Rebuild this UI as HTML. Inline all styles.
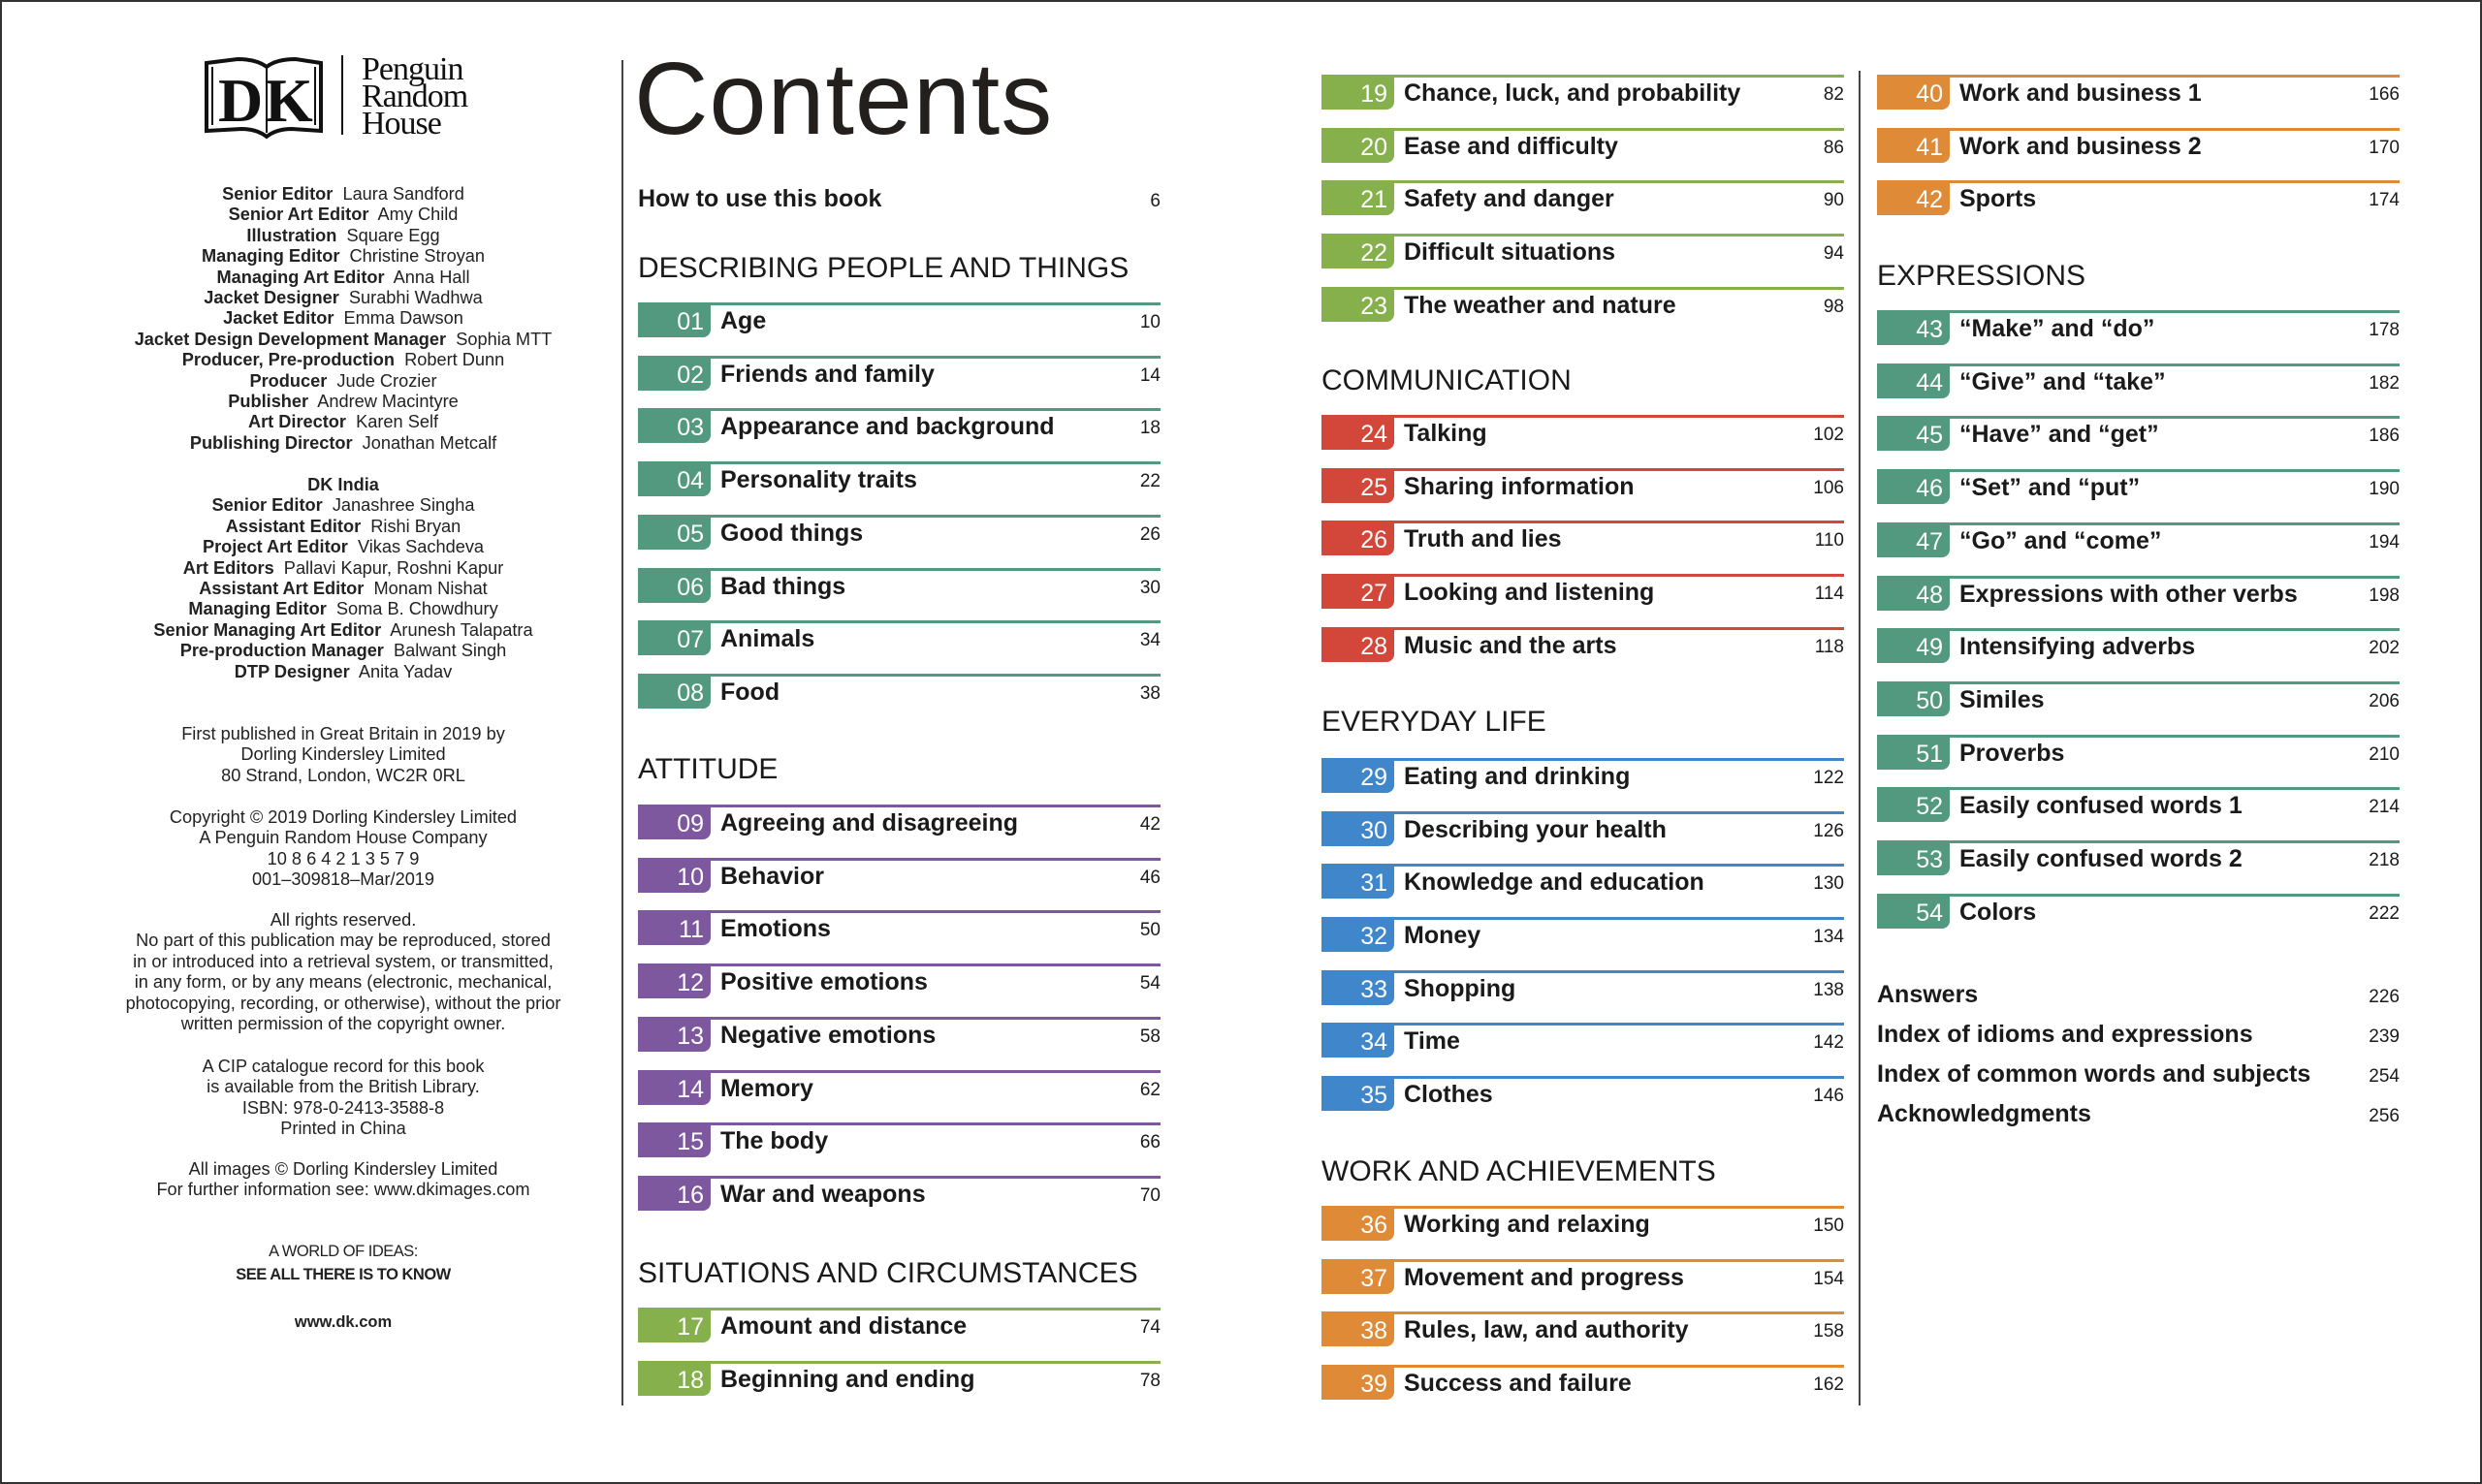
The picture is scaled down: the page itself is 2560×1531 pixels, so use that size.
<!DOCTYPE html>
<html><head><meta charset="utf-8"><style>
*{margin:0;padding:0}
body{width:2560px;height:1531px;position:relative;background:#fff;font-family:"Liberation Sans",sans-serif;color:#1a1a1a;overflow:hidden}
.frame{position:absolute;left:0;top:0;width:2556px;height:1527px;border:2px solid #333}
.vl{position:absolute;width:2px;background:#444}
.col{position:absolute;width:539px;top:0;height:1531px}
.r{position:absolute;left:0;right:0;height:33px;border-top:3px solid var(--c)}
.n{position:absolute;left:0;top:0;width:75px;height:33px;background:var(--c);color:#fff;font-style:normal;font-weight:normal;text-align:right;padding-right:7px;box-sizing:border-box;font-size:25px;line-height:34px;border-bottom-right-radius:8px}
.t{position:absolute;left:85px;top:0;font-weight:bold;font-size:25px;line-height:33px;white-space:nowrap}
.p{position:absolute;right:0;top:0;font-style:normal;font-size:19px;line-height:36px}
.h{position:absolute;left:0;font-size:30px;line-height:31px;white-space:nowrap}
.x{position:absolute;left:0;right:0;font-weight:bold;font-size:25px;line-height:25px}
.x i{position:absolute;right:0;top:2px;font-style:normal;font-weight:normal;font-size:19px}
.g{--c:#52997f}.v{--c:#7e589f}.l{--c:#85b04b}.red{--c:#d3463a}.b{--c:#3f86cb}.o{--c:#df8a37}
.cr{position:absolute;left:74px;width:560px;text-align:center;font-size:18.2px;line-height:21.4px;color:#222}
.cr b{font-weight:bold}
</style></head><body>
<div class="frame"></div>
<div class="vl" style="left:641px;top:62px;height:1388px"></div>
<div class="vl" style="left:1917px;top:73px;height:1377px"></div>

<svg style="position:absolute;left:205px;top:55px" width="320" height="90" viewBox="0 0 320 90">
<path d="M8 10 L40 6 Q60 6 70 14 Q80 6 100 6 L126 10 L126 80 L96 78 Q80 78 70 86 Q60 78 44 78 L8 80 Z" fill="none" stroke="#111" stroke-width="4"/>
<path d="M14 14 L14 74 M120 14 L120 74 M70 16 L70 82" stroke="#111" stroke-width="2"/>
<text x="20" y="70" font-family="Liberation Serif" font-size="64" font-weight="bold" fill="#111">D</text>
<text x="68" y="70" font-family="Liberation Serif" font-size="64" font-weight="bold" fill="#111">K</text>
<rect x="147" y="2" width="2" height="82" fill="#111"/>
<text x="168" y="27" font-family="Liberation Serif" font-size="34" fill="#111" letter-spacing="-1">Penguin</text>
<text x="168" y="55" font-family="Liberation Serif" font-size="34" fill="#111" letter-spacing="-1">Random</text>
<text x="168" y="83" font-family="Liberation Serif" font-size="34" fill="#111" letter-spacing="-1">House</text>
</svg>

<div class="cr" style="top:190px"><b>Senior Editor</b>&nbsp; Laura Sandford<br><b>Senior Art Editor</b>&nbsp; Amy Child<br><b>Illustration</b>&nbsp; Square Egg<br><b>Managing Editor</b>&nbsp; Christine Stroyan<br><b>Managing Art Editor</b>&nbsp; Anna Hall<br><b>Jacket Designer</b>&nbsp; Surabhi Wadhwa<br><b>Jacket Editor</b>&nbsp; Emma Dawson<br><b>Jacket Design Development Manager</b>&nbsp; Sophia MTT<br><b>Producer, Pre-production</b>&nbsp; Robert Dunn<br><b>Producer</b>&nbsp; Jude Crozier<br><b>Publisher</b>&nbsp; Andrew Macintyre<br><b>Art Director</b>&nbsp; Karen Self<br><b>Publishing Director</b>&nbsp; Jonathan Metcalf</div>
<div class="cr" style="top:490px"><b>DK India</b><br><b>Senior Editor</b>&nbsp; Janashree Singha<br><b>Assistant Editor</b>&nbsp; Rishi Bryan<br><b>Project Art Editor</b>&nbsp; Vikas Sachdeva<br><b>Art Editors</b>&nbsp; Pallavi Kapur, Roshni Kapur<br><b>Assistant Art Editor</b>&nbsp; Monam Nishat<br><b>Managing Editor</b>&nbsp; Soma B. Chowdhury<br><b>Senior Managing Art Editor</b>&nbsp; Arunesh Talapatra<br><b>Pre-production Manager</b>&nbsp; Balwant Singh<br><b>DTP Designer</b>&nbsp; Anita Yadav</div>
<div class="cr" style="top:747px">First published in Great Britain in 2019 by<br>Dorling Kindersley Limited<br>80 Strand, London, WC2R 0RL</div>
<div class="cr" style="top:833px">Copyright © 2019 Dorling Kindersley Limited<br>A Penguin Random House Company<br>10 8 6 4 2 1 3 5 7 9<br>001–309818–Mar/2019</div>
<div class="cr" style="top:939px">All rights reserved.<br>No part of this publication may be reproduced, stored<br>in or introduced into a retrieval system, or transmitted,<br>in any form, or by any means (electronic, mechanical,<br>photocopying, recording, or otherwise), without the prior<br>written permission of the copyright owner.</div>
<div class="cr" style="top:1090px">A CIP catalogue record for this book<br>is available from the British Library.<br>ISBN: 978-0-2413-3588-8<br>Printed in China</div>
<div class="cr" style="top:1196px">All images © Dorling Kindersley Limited<br>For further information see: www.dkimages.com</div>
<div class="cr" style="top:1281px;font-size:16.5px;letter-spacing:-0.5px">A WORLD OF IDEAS:</div>
<div class="cr" style="top:1305px;font-size:16.5px;font-weight:bold;letter-spacing:-0.5px">SEE ALL THERE IS TO KNOW</div>
<div class="cr" style="top:1354px;font-size:16.5px;font-weight:bold">www.dk.com</div>

<div class="col" style="left:658px">
<div style="position:absolute;left:-4px;top:49px;font-size:106px;line-height:106px;color:#231f1c;letter-spacing:1px">Contents</div>
<div class="x" style="top:193px">How to use this book<i>6</i></div>
<div class="h" style="top:261px">DESCRIBING PEOPLE AND THINGS</div>
<div class="r g" style="top:312px"><b class="n">01</b><span class="t">Age</span><i class="p">10</i></div>
<div class="r g" style="top:367px"><b class="n">02</b><span class="t">Friends and family</span><i class="p">14</i></div>
<div class="r g" style="top:421px"><b class="n">03</b><span class="t">Appearance and background</span><i class="p">18</i></div>
<div class="r g" style="top:476px"><b class="n">04</b><span class="t">Personality traits</span><i class="p">22</i></div>
<div class="r g" style="top:531px"><b class="n">05</b><span class="t">Good things</span><i class="p">26</i></div>
<div class="r g" style="top:586px"><b class="n">06</b><span class="t">Bad things</span><i class="p">30</i></div>
<div class="r g" style="top:640px"><b class="n">07</b><span class="t">Animals</span><i class="p">34</i></div>
<div class="r g" style="top:695px"><b class="n">08</b><span class="t">Food</span><i class="p">38</i></div>
<div class="h" style="top:778px">ATTITUDE</div>
<div class="r v" style="top:830px"><b class="n">09</b><span class="t">Agreeing and disagreeing</span><i class="p">42</i></div>
<div class="r v" style="top:885px"><b class="n">10</b><span class="t">Behavior</span><i class="p">46</i></div>
<div class="r v" style="top:939px"><b class="n">11</b><span class="t">Emotions</span><i class="p">50</i></div>
<div class="r v" style="top:994px"><b class="n">12</b><span class="t">Positive emotions</span><i class="p">54</i></div>
<div class="r v" style="top:1049px"><b class="n">13</b><span class="t">Negative emotions</span><i class="p">58</i></div>
<div class="r v" style="top:1104px"><b class="n">14</b><span class="t">Memory</span><i class="p">62</i></div>
<div class="r v" style="top:1158px"><b class="n">15</b><span class="t">The body</span><i class="p">66</i></div>
<div class="r v" style="top:1213px"><b class="n">16</b><span class="t">War and weapons</span><i class="p">70</i></div>
<div class="h" style="top:1298px">SITUATIONS AND CIRCUMSTANCES</div>
<div class="r l" style="top:1349px"><b class="n">17</b><span class="t">Amount and distance</span><i class="p">74</i></div>
<div class="r l" style="top:1404px"><b class="n">18</b><span class="t">Beginning and ending</span><i class="p">78</i></div>
</div>

<div class="col" style="left:1363px">
<div class="r l" style="top:77px"><b class="n">19</b><span class="t">Chance, luck, and probability</span><i class="p">82</i></div>
<div class="r l" style="top:132px"><b class="n">20</b><span class="t">Ease and difficulty</span><i class="p">86</i></div>
<div class="r l" style="top:186px"><b class="n">21</b><span class="t">Safety and danger</span><i class="p">90</i></div>
<div class="r l" style="top:241px"><b class="n">22</b><span class="t">Difficult situations</span><i class="p">94</i></div>
<div class="r l" style="top:296px"><b class="n">23</b><span class="t">The weather and nature</span><i class="p">98</i></div>
<div class="h" style="top:377px">COMMUNICATION</div>
<div class="r red" style="top:428px"><b class="n">24</b><span class="t">Talking</span><i class="p">102</i></div>
<div class="r red" style="top:483px"><b class="n">25</b><span class="t">Sharing information</span><i class="p">106</i></div>
<div class="r red" style="top:537px"><b class="n">26</b><span class="t">Truth and lies</span><i class="p">110</i></div>
<div class="r red" style="top:592px"><b class="n">27</b><span class="t">Looking and listening</span><i class="p">114</i></div>
<div class="r red" style="top:647px"><b class="n">28</b><span class="t">Music and the arts</span><i class="p">118</i></div>
<div class="h" style="top:729px">EVERYDAY LIFE</div>
<div class="r b" style="top:782px"><b class="n">29</b><span class="t">Eating and drinking</span><i class="p">122</i></div>
<div class="r b" style="top:837px"><b class="n">30</b><span class="t">Describing your health</span><i class="p">126</i></div>
<div class="r b" style="top:891px"><b class="n">31</b><span class="t">Knowledge and education</span><i class="p">130</i></div>
<div class="r b" style="top:946px"><b class="n">32</b><span class="t">Money</span><i class="p">134</i></div>
<div class="r b" style="top:1001px"><b class="n">33</b><span class="t">Shopping</span><i class="p">138</i></div>
<div class="r b" style="top:1055px"><b class="n">34</b><span class="t">Time</span><i class="p">142</i></div>
<div class="r b" style="top:1110px"><b class="n">35</b><span class="t">Clothes</span><i class="p">146</i></div>
<div class="h" style="top:1193px">WORK AND ACHIEVEMENTS</div>
<div class="r o" style="top:1244px"><b class="n">36</b><span class="t">Working and relaxing</span><i class="p">150</i></div>
<div class="r o" style="top:1299px"><b class="n">37</b><span class="t">Movement and progress</span><i class="p">154</i></div>
<div class="r o" style="top:1353px"><b class="n">38</b><span class="t">Rules, law, and authority</span><i class="p">158</i></div>
<div class="r o" style="top:1408px"><b class="n">39</b><span class="t">Success and failure</span><i class="p">162</i></div>
</div>

<div class="col" style="left:1936px">
<div class="r o" style="top:77px"><b class="n">40</b><span class="t">Work and business 1</span><i class="p">166</i></div>
<div class="r o" style="top:132px"><b class="n">41</b><span class="t">Work and business 2</span><i class="p">170</i></div>
<div class="r o" style="top:186px"><b class="n">42</b><span class="t">Sports</span><i class="p">174</i></div>
<div class="h" style="top:269px">EXPRESSIONS</div>
<div class="r g" style="top:320px"><b class="n">43</b><span class="t">“Make” and “do”</span><i class="p">178</i></div>
<div class="r g" style="top:375px"><b class="n">44</b><span class="t">“Give” and “take”</span><i class="p">182</i></div>
<div class="r g" style="top:429px"><b class="n">45</b><span class="t">“Have” and “get”</span><i class="p">186</i></div>
<div class="r g" style="top:484px"><b class="n">46</b><span class="t">“Set” and “put”</span><i class="p">190</i></div>
<div class="r g" style="top:539px"><b class="n">47</b><span class="t">“Go” and “come”</span><i class="p">194</i></div>
<div class="r g" style="top:594px"><b class="n">48</b><span class="t">Expressions with other verbs</span><i class="p">198</i></div>
<div class="r g" style="top:648px"><b class="n">49</b><span class="t">Intensifying adverbs</span><i class="p">202</i></div>
<div class="r g" style="top:703px"><b class="n">50</b><span class="t">Similes</span><i class="p">206</i></div>
<div class="r g" style="top:758px"><b class="n">51</b><span class="t">Proverbs</span><i class="p">210</i></div>
<div class="r g" style="top:812px"><b class="n">52</b><span class="t">Easily confused words 1</span><i class="p">214</i></div>
<div class="r g" style="top:867px"><b class="n">53</b><span class="t">Easily confused words 2</span><i class="p">218</i></div>
<div class="r g" style="top:922px"><b class="n">54</b><span class="t">Colors</span><i class="p">222</i></div>
<div class="x" style="top:1014px">Answers<i>226</i></div>
<div class="x" style="top:1055px">Index of idioms and expressions<i>239</i></div>
<div class="x" style="top:1096px">Index of common words and subjects<i>254</i></div>
<div class="x" style="top:1137px">Acknowledgments<i>256</i></div>
</div>
</body></html>
